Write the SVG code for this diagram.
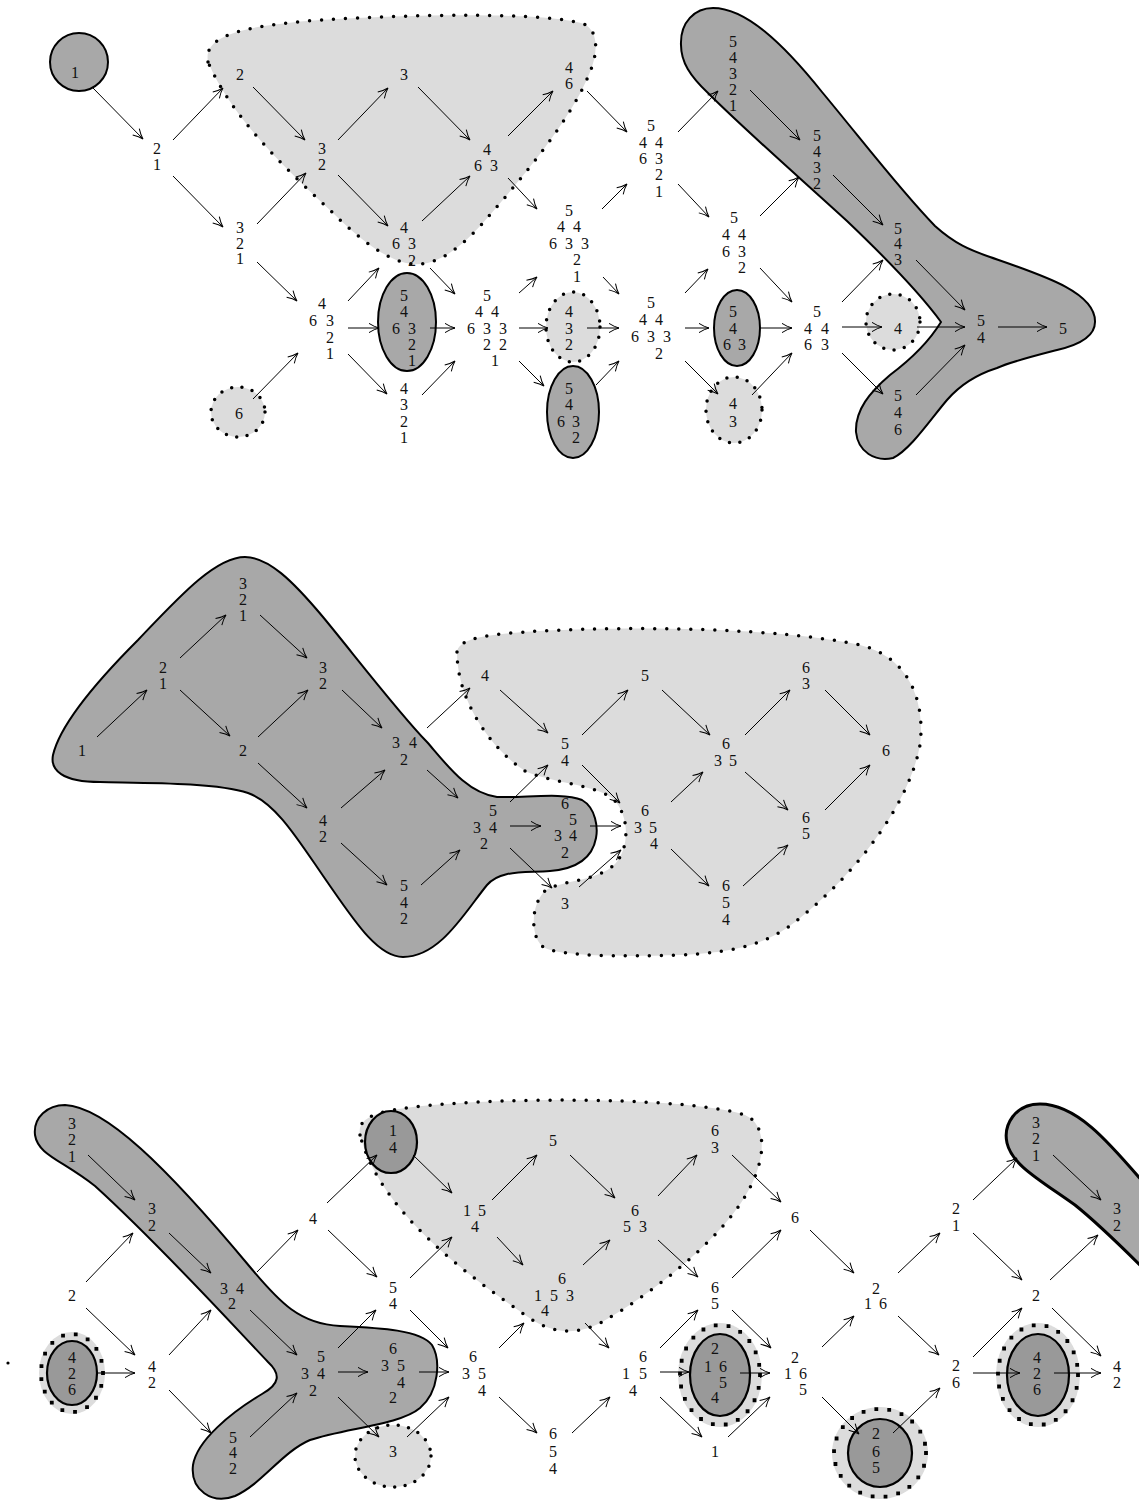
<svg xmlns="http://www.w3.org/2000/svg" width="1139" height="1501" viewBox="0 0 1139 1501">
<defs>
<style>
.t{font-family:"Liberation Serif","Times New Roman",serif;font-size:16px;fill:#111;text-anchor:middle}
.c{stroke:#000;stroke-width:1;fill:none;marker-end:url(#ah)}
.dark{fill:#a8a8a8;stroke:#000;stroke-width:2}
.dk2{fill:#999;stroke:#000;stroke-width:2.2}
.light{fill:#dcdcdc;stroke:#000;stroke-width:3.5;stroke-dasharray:0 12;stroke-linecap:round}
.lightS{fill:#dcdcdc;stroke:#000;stroke-width:3.5;stroke-dasharray:0 10.5;stroke-linecap:round}
.halo{fill:#dcdcdc;stroke:none}
.hdot{fill:none;stroke:#000;stroke-width:3.8;stroke-dasharray:0 13;stroke-linecap:square}
</style>
<marker id="ah" viewBox="-11 -6 12 12" refX="0" refY="0" markerWidth="12" markerHeight="12" markerUnits="userSpaceOnUse" orient="auto">
<path d="M-10,-4.6 Q-4.5,-1.1 0,0 Q-4.5,1.1 -10,4.6" fill="none" stroke="#000" stroke-width="1"/>
</marker>
</defs>
<rect width="1139" height="1501" fill="#fff"/>

<g id="regions">
<path id="r-top-light" class="light" d="M 208,62 C 203,36 240,26 320,20 C 420,14 545,12 584,24 C 600,32 597,55 590,72 C 572,118 525,175 482,224 C 458,250 436,266 413,264 C 388,262 358,238 333,213 C 285,168 232,118 208,62 Z"/>
<path id="r-top-dark" class="dark" d="M 681,45 C 680,22 695,8 713,8 C 745,8 782,42 822,92 C 862,140 900,190 935,226 C 955,244 970,250 990,257 C 1042,275 1096,292 1095,322 C 1095,340 1070,347 1057,350 C 1030,357 1010,362 997,368 C 975,375 960,385 947,400 C 930,420 910,450 893,458 C 875,462 858,452 856,432 C 855,410 870,392 890,375 C 910,360 930,340 941,322 C 925,300 890,262 847,221 C 800,178 745,130 708,93 C 690,76 681,62 681,45 Z"/>
<path id="r-mid-light" class="light" d="M 457,652 C 459,637 492,634 540,631 C 640,626 780,628 860,645 C 912,658 925,705 920,745 C 910,800 862,868 800,918 C 770,943 740,952 680,955 C 620,957 562,956 545,948 C 530,940 530,905 545,891 C 560,880 597,882 615,864 C 630,848 630,814 612,798 C 592,784 552,783 525,771 C 490,748 457,700 457,652 Z"/>
<path id="r-mid-dark" class="dark" d="M 245,557 C 268,557 292,580 323,617 C 352,652 398,712 427,742 C 447,765 467,793 497,797 C 525,798 563,792 582,800 C 596,808 598,828 596,838 C 592,860 575,869 550,871 C 522,873 500,870 487,885 C 465,912 440,957 403,957 C 378,957 355,922 328,883 C 300,843 277,803 248,793 C 215,782 140,783 100,782 C 62,782 50,770 53,755 C 60,725 98,680 138,640 C 178,598 215,557 245,557 Z"/>
<path id="r-bot-dark" class="dark" d="M 35,1135 C 33,1117 48,1105 65,1105 C 105,1107 165,1165 250,1267 C 280,1303 300,1324 340,1326 C 382,1328 420,1330 432,1345 C 441,1360 439,1392 420,1408 C 400,1425 345,1428 310,1440 C 282,1452 262,1484 235,1496 C 212,1505 190,1490 193,1465 C 197,1440 232,1412 262,1394 C 280,1384 281,1374 268,1362 C 230,1322 160,1245 95,1186 C 62,1160 38,1155 35,1135 Z"/>
<path id="r-bot-light" class="light" d="M 360,1135 C 356,1114 385,1108 460,1103 C 560,1097 700,1100 745,1115 C 768,1125 766,1160 747,1193 C 722,1238 655,1292 602,1322 C 580,1334 555,1336 528,1317 C 460,1270 380,1210 360,1135 Z"/>
<path id="r-bot-right" class="dark" style="stroke-width:3" d="M 1150,1190 C 1115,1150 1080,1104 1040,1104 C 1015,1104 1003,1125 1007,1143 C 1012,1165 1040,1180 1075,1205 C 1100,1225 1125,1250 1150,1275 Z"/>
</g>

<g id="top-nodes">
<g id="t-1"><circle class="dark" cx="79" cy="62" r="29"/><text class="t" x="75" y="78">1</text></g>
<g id="t-21"><text class="t"><tspan x="157" y="154">2</tspan><tspan x="157" y="170">1</tspan></text></g>
<g id="t-2"><text class="t" x="240" y="80">2</text></g>
<g id="t-321"><text class="t"><tspan x="240" y="233">3</tspan><tspan x="240" y="249">2</tspan><tspan x="240" y="264">1</tspan></text></g>
<g id="t-6"><ellipse class="lightS" cx="238" cy="412" rx="27" ry="25"/><text class="t" x="239" y="419">6</text></g>
<g id="t-32"><text class="t"><tspan x="322" y="154">3</tspan><tspan x="322" y="170">2</tspan></text></g>
<g id="t-46321"><text class="t"><tspan x="322" y="309">4</tspan><tspan x="313 321.5 330" y="326">6 3</tspan><tspan x="330" y="343">2</tspan><tspan x="330" y="359">1</tspan></text></g>
<g id="t-3"><text class="t" x="404" y="80">3</text></g>
<g id="t-4632"><text class="t"><tspan x="404" y="233">4</tspan><tspan x="396 404 412" y="249">6 3</tspan><tspan x="412" y="266">2</tspan></text></g>
<g id="t-54632-1"><ellipse class="dark" cx="407" cy="322" rx="29" ry="49"/><text class="t"><tspan x="404" y="301">5</tspan><tspan x="404" y="317">4</tspan><tspan x="396 404 412" y="334">6 3</tspan><tspan x="412" y="350">2</tspan><tspan x="412" y="366">1</tspan></text></g>
<g id="t-4321"><text class="t"><tspan x="404" y="394">4</tspan><tspan x="404" y="410">3</tspan><tspan x="404" y="427">2</tspan><tspan x="404" y="443">1</tspan></text></g>
<g id="t-463"><text class="t"><tspan x="487" y="155">4</tspan><tspan x="478 486 494" y="171">6 3</tspan></text></g>
<g id="t-544633221"><text class="t"><tspan x="487" y="301">5</tspan><tspan x="479 487 495" y="317">4 4</tspan><tspan x="471 479 487 495 503" y="334">6 3 3</tspan><tspan x="487 495 503" y="350">2 2</tspan><tspan x="495" y="366">1</tspan></text></g>
<g id="t-46"><text class="t"><tspan x="569" y="73">4</tspan><tspan x="569" y="89">6</tspan></text></g>
<g id="t-54463321"><text class="t"><tspan x="569" y="216">5</tspan><tspan x="561 569 577" y="232">4 4</tspan><tspan x="553 561 569 577 585" y="249">6 3 3</tspan><tspan x="577" y="265">2</tspan><tspan x="577" y="282">1</tspan></text></g>
<g id="t-432"><ellipse class="lightS" cx="573" cy="327" rx="27" ry="35"/><text class="t"><tspan x="569" y="317">4</tspan><tspan x="569" y="334">3</tspan><tspan x="569" y="350">2</tspan></text></g>
<g id="t-54632"><ellipse class="dark" cx="573" cy="412" rx="26" ry="46"/><text class="t"><tspan x="569" y="394">5</tspan><tspan x="569" y="410">4</tspan><tspan x="561 568.5 576" y="427">6 3</tspan><tspan x="576" y="443">2</tspan></text></g>
<g id="t-5446321"><text class="t"><tspan x="651" y="131">5</tspan><tspan x="643 651 659" y="148">4 4</tspan><tspan x="643 651 659" y="164">6 3</tspan><tspan x="659" y="180">2</tspan><tspan x="659" y="197">1</tspan></text></g>
<g id="t-5446332"><text class="t"><tspan x="651" y="308">5</tspan><tspan x="643 651 659" y="325">4 4</tspan><tspan x="635 643 651 659 667" y="342">6 3 3</tspan><tspan x="659" y="359">2</tspan></text></g>
<g id="t-54321"><text class="t"><tspan x="733" y="47">5</tspan><tspan x="733" y="63">4</tspan><tspan x="733" y="79">3</tspan><tspan x="733" y="95">2</tspan><tspan x="733" y="111">1</tspan></text></g>
<g id="t-544632"><text class="t"><tspan x="734" y="223">5</tspan><tspan x="726 734 742" y="240">4 4</tspan><tspan x="726 734 742" y="257">6 3</tspan><tspan x="742" y="273">2</tspan></text></g>
<g id="t-5463"><ellipse class="dark" cx="737" cy="328" rx="23" ry="38"/><text class="t"><tspan x="733" y="317">5</tspan><tspan x="733" y="334">4</tspan><tspan x="727 734.5 742" y="350">6 3</tspan></text></g>
<g id="t-43"><ellipse class="lightS" cx="734" cy="410" rx="28" ry="33"/><text class="t"><tspan x="733" y="409">4</tspan><tspan x="733" y="427">3</tspan></text></g>
<g id="t-5432"><text class="t"><tspan x="817" y="141">5</tspan><tspan x="817" y="157">4</tspan><tspan x="817" y="173">3</tspan><tspan x="817" y="189">2</tspan></text></g>
<g id="t-54463"><text class="t"><tspan x="817" y="317">5</tspan><tspan x="808 816.5 825" y="334">4 4</tspan><tspan x="808 816.5 825" y="350">6 3</tspan></text></g>
<g id="t-543"><text class="t"><tspan x="898" y="234">5</tspan><tspan x="898" y="249">4</tspan><tspan x="898" y="265">3</tspan></text></g>
<g id="t-4"><ellipse class="lightS" cx="893" cy="322" rx="27" ry="28"/><text class="t" x="898" y="334">4</text></g>
<g id="t-546"><text class="t"><tspan x="898" y="401">5</tspan><tspan x="898" y="418">4</tspan><tspan x="898" y="435">6</tspan></text></g>
<g id="t-54"><text class="t"><tspan x="981" y="326">5</tspan><tspan x="981" y="343">4</tspan></text></g>
<g id="t-5"><text class="t" x="1063" y="334">5</text></g>
</g>

<g id="mid-nodes">
<g id="m-1"><text class="t" x="82" y="756">1</text></g>
<g id="m-21"><text class="t"><tspan x="163" y="673">2</tspan><tspan x="163" y="689">1</tspan></text></g>
<g id="m-321"><text class="t"><tspan x="243" y="589">3</tspan><tspan x="243" y="605">2</tspan><tspan x="243" y="621">1</tspan></text></g>
<g id="m-2"><text class="t" x="243" y="756">2</text></g>
<g id="m-32"><text class="t"><tspan x="323" y="673">3</tspan><tspan x="323" y="689">2</tspan></text></g>
<g id="m-42"><text class="t"><tspan x="323" y="826">4</tspan><tspan x="323" y="842">2</tspan></text></g>
<g id="m-342"><text class="t"><tspan x="396 404.5 413" y="748">3 4</tspan><tspan x="404" y="765">2</tspan></text></g>
<g id="m-542"><text class="t"><tspan x="404" y="891">5</tspan><tspan x="404" y="908">4</tspan><tspan x="404" y="924">2</tspan></text></g>
<g id="m-4"><text class="t" x="485" y="681">4</text></g>
<g id="m-5342"><text class="t"><tspan x="493" y="816">5</tspan><tspan x="477 485 493" y="833">3 4</tspan><tspan x="484" y="849">2</tspan></text></g>
<g id="m-54"><text class="t"><tspan x="565" y="749">5</tspan><tspan x="565" y="766">4</tspan></text></g>
<g id="m-65342"><text class="t"><tspan x="565" y="809">6</tspan><tspan x="573" y="825">5</tspan><tspan x="558 565.5 573" y="841">3 4</tspan><tspan x="565" y="858">2</tspan></text></g>
<g id="m-3"><text class="t" x="565" y="909">3</text></g>
<g id="m-5"><text class="t" x="645" y="681">5</text></g>
<g id="m-6354"><text class="t"><tspan x="645" y="816">6</tspan><tspan x="638 645.5 653" y="833">3 5</tspan><tspan x="654" y="849">4</tspan></text></g>
<g id="m-635"><text class="t"><tspan x="726" y="749">6</tspan><tspan x="718 725.5 733" y="766">3 5</tspan></text></g>
<g id="m-654"><text class="t"><tspan x="726" y="891">6</tspan><tspan x="726" y="908">5</tspan><tspan x="726" y="925">4</tspan></text></g>
<g id="m-63"><text class="t"><tspan x="806" y="673">6</tspan><tspan x="806" y="689">3</tspan></text></g>
<g id="m-65"><text class="t"><tspan x="806" y="823">6</tspan><tspan x="806" y="839">5</tspan></text></g>
<g id="m-6"><text class="t" x="886" y="756">6</text></g>
</g>

<g id="bot-nodes">
<g id="b-dot"><circle cx="8" cy="1363" r="1.6" fill="#000"/></g>
<g id="b-321"><text class="t"><tspan x="72" y="1129">3</tspan><tspan x="72" y="1145">2</tspan><tspan x="72" y="1162">1</tspan></text></g>
<g id="b-32"><text class="t"><tspan x="152" y="1214">3</tspan><tspan x="152" y="1231">2</tspan></text></g>
<g id="b-2"><text class="t" x="72" y="1301">2</text></g>
<g id="b-342"><text class="t"><tspan x="224 232 240" y="1294">3 4</tspan><tspan x="232" y="1309">2</tspan></text></g>
<g id="b-426"><ellipse class="halo" cx="72" cy="1373" rx="33" ry="41"/><ellipse class="hdot" cx="72" cy="1373" rx="31" ry="39"/><ellipse class="dk2" cx="72" cy="1373" rx="25" ry="32"/><text class="t"><tspan x="72" y="1363">4</tspan><tspan x="72" y="1379">2</tspan><tspan x="72" y="1395">6</tspan></text></g>
<g id="b-42"><text class="t"><tspan x="152" y="1372">4</tspan><tspan x="152" y="1388">2</tspan></text></g>
<g id="b-542"><text class="t"><tspan x="233" y="1443">5</tspan><tspan x="233" y="1458">4</tspan><tspan x="233" y="1474">2</tspan></text></g>
<g id="b-4"><text class="t" x="313" y="1224">4</text></g>
<g id="b-5342"><text class="t"><tspan x="321" y="1362">5</tspan><tspan x="305 313 321" y="1379">3 4</tspan><tspan x="313" y="1396">2</tspan></text></g>
<g id="b-14"><ellipse class="dk2" cx="391" cy="1142" rx="26" ry="31"/><text class="t"><tspan x="393" y="1136">1</tspan><tspan x="393" y="1153">4</tspan></text></g>
<g id="b-54"><text class="t"><tspan x="393" y="1293">5</tspan><tspan x="393" y="1309">4</tspan></text></g>
<g id="b-63542"><text class="t"><tspan x="393" y="1354">6</tspan><tspan x="385 393 401" y="1371">3 5</tspan><tspan x="401" y="1388">4</tspan><tspan x="393" y="1403">2</tspan></text></g>
<g id="b-3"><ellipse class="lightS" cx="393" cy="1456" rx="38" ry="31"/><text class="t" x="393" y="1457">3</text></g>
<g id="b-154"><text class="t"><tspan x="467 474.5 482" y="1216">1 5</tspan><tspan x="475" y="1232">4</tspan></text></g>
<g id="b-6354"><text class="t"><tspan x="473" y="1362">6</tspan><tspan x="466 474 482" y="1379">3 5</tspan><tspan x="482" y="1396">4</tspan></text></g>
<g id="b-5"><text class="t" x="553" y="1146">5</text></g>
<g id="b-61534"><text class="t"><tspan x="562" y="1284">6</tspan><tspan x="538 546 554 562 570" y="1301">1 5 3</tspan><tspan x="545" y="1316">4</tspan></text></g>
<g id="b-654"><text class="t"><tspan x="553" y="1439">6</tspan><tspan x="553" y="1457">5</tspan><tspan x="553" y="1474">4</tspan></text></g>
<g id="b-653"><text class="t"><tspan x="635" y="1216">6</tspan><tspan x="627 635 643" y="1232">5 3</tspan></text></g>
<g id="b-6154"><text class="t"><tspan x="643" y="1362">6</tspan><tspan x="626 634.5 643" y="1379">1 5</tspan><tspan x="633" y="1396">4</tspan></text></g>
<g id="b-63"><text class="t"><tspan x="715" y="1136">6</tspan><tspan x="715" y="1153">3</tspan></text></g>
<g id="b-65"><text class="t"><tspan x="715" y="1293">6</tspan><tspan x="715" y="1309">5</tspan></text></g>
<g id="b-21654"><ellipse class="halo" cx="720" cy="1375" rx="42" ry="52"/><ellipse class="hdot" cx="720" cy="1375" rx="40" ry="50"/><ellipse class="dk2" cx="720" cy="1375" rx="30" ry="41"/><text class="t"><tspan x="715" y="1354">2</tspan><tspan x="708 715.5 723" y="1372">1 6</tspan><tspan x="723" y="1388">5</tspan><tspan x="715" y="1403">4</tspan></text></g>
<g id="b-1"><text class="t" x="715" y="1457">1</text></g>
<g id="b-6"><text class="t" x="795" y="1223">6</text></g>
<g id="b-2165"><text class="t"><tspan x="795" y="1363">2</tspan><tspan x="788 795.5 803" y="1379">1 6</tspan><tspan x="803" y="1395">5</tspan></text></g>
<g id="b-216"><text class="t"><tspan x="876" y="1294">2</tspan><tspan x="868 875.5 883" y="1309">1 6</tspan></text></g>
<g id="b-265"><ellipse class="halo" cx="880" cy="1453" rx="48" ry="46"/><ellipse class="hdot" cx="880" cy="1453" rx="46" ry="44"/><ellipse class="dk2" cx="880" cy="1453" rx="32" ry="34"/><text class="t"><tspan x="876" y="1439">2</tspan><tspan x="876" y="1457">6</tspan><tspan x="876" y="1473">5</tspan></text></g>
<g id="b-21"><text class="t"><tspan x="956" y="1214">2</tspan><tspan x="956" y="1231">1</tspan></text></g>
<g id="b-26"><text class="t"><tspan x="956" y="1371">2</tspan><tspan x="956" y="1388">6</tspan></text></g>
<g id="b-321r"><text class="t"><tspan x="1036" y="1128">3</tspan><tspan x="1036" y="1144">2</tspan><tspan x="1036" y="1161">1</tspan></text></g>
<g id="b-2r"><text class="t" x="1036" y="1301">2</text></g>
<g id="b-426r"><ellipse class="halo" cx="1038" cy="1375" rx="42" ry="52"/><ellipse class="hdot" cx="1038" cy="1375" rx="40" ry="50"/><ellipse class="dk2" cx="1038" cy="1375" rx="31" ry="41"/><text class="t"><tspan x="1037" y="1363">4</tspan><tspan x="1037" y="1379">2</tspan><tspan x="1037" y="1395">6</tspan></text></g>
<g id="b-32r"><text class="t"><tspan x="1117" y="1214">3</tspan><tspan x="1117" y="1231">2</tspan></text></g>
<g id="b-42r"><text class="t"><tspan x="1117" y="1372">4</tspan><tspan x="1117" y="1388">2</tspan></text></g>
</g>

<g id="connectors">
<line class="c" x1="93" y1="88" x2="143" y2="139"/>
<line class="c" x1="173" y1="140" x2="223" y2="88"/>
<line class="c" x1="173" y1="176" x2="223" y2="227"/>
<line class="c" x1="253" y1="87" x2="305" y2="140"/>
<line class="c" x1="257" y1="224" x2="306" y2="173"/>
<line class="c" x1="257" y1="262" x2="297" y2="301"/>
<line class="c" x1="253" y1="399" x2="298" y2="353"/>
<line class="c" x1="338" y1="140" x2="388" y2="88"/>
<line class="c" x1="338" y1="175" x2="388" y2="226"/>
<line class="c" x1="348" y1="301" x2="379" y2="268"/>
<line class="c" x1="348" y1="328" x2="379" y2="328"/>
<line class="c" x1="348" y1="354" x2="387" y2="394"/>
<line class="c" x1="418" y1="87" x2="470" y2="140"/>
<line class="c" x1="422" y1="221" x2="470" y2="176"/>
<line class="c" x1="430" y1="268" x2="455" y2="294"/>
<line class="c" x1="430" y1="328" x2="455" y2="328"/>
<line class="c" x1="422" y1="395" x2="455" y2="361"/>
<line class="c" x1="508" y1="136" x2="553" y2="91"/>
<line class="c" x1="508" y1="178" x2="537" y2="209"/>
<line class="c" x1="519" y1="293" x2="537" y2="277"/>
<line class="c" x1="519" y1="328" x2="548" y2="328"/>
<line class="c" x1="519" y1="361" x2="544" y2="386"/>
<line class="c" x1="587" y1="91" x2="627" y2="132"/>
<line class="c" x1="602" y1="209" x2="627" y2="184"/>
<line class="c" x1="603" y1="277" x2="619" y2="294"/>
<line class="c" x1="587" y1="328" x2="619" y2="328"/>
<line class="c" x1="596" y1="385" x2="619" y2="361"/>
<line class="c" x1="678" y1="132" x2="718" y2="91"/>
<line class="c" x1="678" y1="184" x2="709" y2="217"/>
<line class="c" x1="685" y1="293" x2="708" y2="269"/>
<line class="c" x1="685" y1="328" x2="709" y2="328"/>
<line class="c" x1="685" y1="361" x2="718" y2="394"/>
<line class="c" x1="750" y1="90" x2="800" y2="140"/>
<line class="c" x1="760" y1="216" x2="799" y2="177"/>
<line class="c" x1="760" y1="268" x2="792" y2="302"/>
<line class="c" x1="760" y1="328" x2="792" y2="328"/>
<line class="c" x1="752" y1="395" x2="792" y2="353"/>
<line class="c" x1="833" y1="175" x2="883" y2="225"/>
<line class="c" x1="842" y1="302" x2="883" y2="260"/>
<line class="c" x1="842" y1="327" x2="882" y2="327"/>
<line class="c" x1="842" y1="353" x2="883" y2="394"/>
<line class="c" x1="916" y1="260" x2="965" y2="310"/>
<line class="c" x1="917" y1="327" x2="965" y2="327"/>
<line class="c" x1="916" y1="395" x2="965" y2="345"/>
<line class="c" x1="998" y1="327" x2="1047" y2="327"/>

<line class="c" x1="97" y1="737" x2="147" y2="690"/>
<line class="c" x1="180" y1="658" x2="226" y2="615"/>
<line class="c" x1="180" y1="690" x2="230" y2="736"/>
<line class="c" x1="260" y1="615" x2="307" y2="658"/>
<line class="c" x1="258" y1="737" x2="308" y2="690"/>
<line class="c" x1="258" y1="763" x2="307" y2="808"/>
<line class="c" x1="342" y1="690" x2="382" y2="728"/>
<line class="c" x1="341" y1="808" x2="385" y2="770"/>
<line class="c" x1="341" y1="843" x2="387" y2="885"/>
<line class="c" x1="427" y1="728" x2="470" y2="688"/>
<line class="c" x1="427" y1="770" x2="458" y2="798"/>
<line class="c" x1="421" y1="885" x2="460" y2="850"/>
<line class="c" x1="500" y1="690" x2="548" y2="733"/>
<line class="c" x1="510" y1="802" x2="548" y2="765"/>
<line class="c" x1="510" y1="826" x2="541" y2="826"/>
<line class="c" x1="510" y1="848" x2="552" y2="888"/>
<line class="c" x1="582" y1="735" x2="628" y2="690"/>
<line class="c" x1="582" y1="765" x2="620" y2="803"/>
<line class="c" x1="590" y1="826" x2="621" y2="826"/>
<line class="c" x1="579" y1="887" x2="621" y2="850"/>
<line class="c" x1="662" y1="690" x2="710" y2="735"/>
<line class="c" x1="671" y1="802" x2="703" y2="772"/>
<line class="c" x1="671" y1="849" x2="709" y2="886"/>
<line class="c" x1="745" y1="735" x2="790" y2="690"/>
<line class="c" x1="745" y1="772" x2="788" y2="810"/>
<line class="c" x1="743" y1="886" x2="788" y2="845"/>
<line class="c" x1="825" y1="690" x2="870" y2="735"/>
<line class="c" x1="825" y1="810" x2="870" y2="765"/>

<line class="c" x1="88" y1="1155" x2="135" y2="1200"/>
<line class="c" x1="86" y1="1282" x2="133" y2="1233"/>
<line class="c" x1="86" y1="1308" x2="135" y2="1355"/>
<line class="c" x1="97" y1="1373" x2="135" y2="1373"/>
<line class="c" x1="169" y1="1233" x2="211" y2="1273"/>
<line class="c" x1="169" y1="1355" x2="211" y2="1310"/>
<line class="c" x1="169" y1="1390" x2="211" y2="1433"/>
<line class="c" x1="257" y1="1272" x2="298" y2="1230"/>
<line class="c" x1="250" y1="1310" x2="297" y2="1355"/>
<line class="c" x1="250" y1="1437" x2="297" y2="1393"/>
<line class="c" x1="327" y1="1203" x2="377" y2="1155"/>
<line class="c" x1="328" y1="1230" x2="377" y2="1277"/>
<line class="c" x1="338" y1="1348" x2="376" y2="1310"/>
<line class="c" x1="338" y1="1372" x2="368" y2="1372"/>
<line class="c" x1="338" y1="1397" x2="379" y2="1437"/>
<line class="c" x1="413" y1="1155" x2="452" y2="1193"/>
<line class="c" x1="410" y1="1278" x2="452" y2="1237"/>
<line class="c" x1="410" y1="1310" x2="448" y2="1348"/>
<line class="c" x1="419" y1="1372" x2="449" y2="1372"/>
<line class="c" x1="407" y1="1437" x2="449" y2="1397"/>
<line class="c" x1="492" y1="1200" x2="537" y2="1155"/>
<line class="c" x1="497" y1="1237" x2="523" y2="1265"/>
<line class="c" x1="499" y1="1348" x2="524" y2="1323"/>
<line class="c" x1="499" y1="1397" x2="537" y2="1433"/>
<line class="c" x1="570" y1="1155" x2="615" y2="1198"/>
<line class="c" x1="583" y1="1265" x2="610" y2="1240"/>
<line class="c" x1="585" y1="1323" x2="609" y2="1348"/>
<line class="c" x1="572" y1="1433" x2="610" y2="1397"/>
<line class="c" x1="658" y1="1196" x2="697" y2="1155"/>
<line class="c" x1="658" y1="1240" x2="698" y2="1277"/>
<line class="c" x1="660" y1="1348" x2="698" y2="1310"/>
<line class="c" x1="660" y1="1372" x2="689" y2="1372"/>
<line class="c" x1="660" y1="1397" x2="702" y2="1437"/>
<line class="c" x1="732" y1="1155" x2="781" y2="1202"/>
<line class="c" x1="732" y1="1278" x2="781" y2="1230"/>
<line class="c" x1="732" y1="1310" x2="771" y2="1348"/>
<line class="c" x1="740" y1="1373" x2="770" y2="1373"/>
<line class="c" x1="728" y1="1437" x2="770" y2="1397"/>
<line class="c" x1="810" y1="1230" x2="854" y2="1273"/>
<line class="c" x1="822" y1="1347" x2="854" y2="1316"/>
<line class="c" x1="822" y1="1397" x2="859" y2="1434"/>
<line class="c" x1="898" y1="1273" x2="940" y2="1233"/>
<line class="c" x1="898" y1="1316" x2="939" y2="1355"/>
<line class="c" x1="893" y1="1433" x2="940" y2="1388"/>
<line class="c" x1="973" y1="1200" x2="1017" y2="1158"/>
<line class="c" x1="973" y1="1233" x2="1022" y2="1280"/>
<line class="c" x1="973" y1="1357" x2="1022" y2="1308"/>
<line class="c" x1="973" y1="1373" x2="1020" y2="1373"/>
<line class="c" x1="1053" y1="1155" x2="1101" y2="1200"/>
<line class="c" x1="1050" y1="1280" x2="1098" y2="1235"/>
<line class="c" x1="1052" y1="1308" x2="1101" y2="1356"/>
<line class="c" x1="1054" y1="1373" x2="1101" y2="1373"/>
</g>
</svg>
